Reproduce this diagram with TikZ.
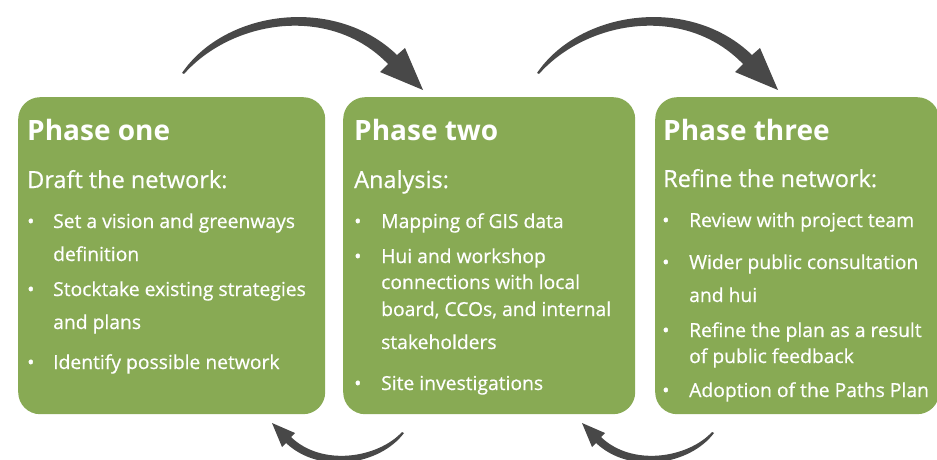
\documentclass[tikz,border=0pt]{standalone}
\usepackage{fontspec}
\setmainfont{Open Sans}[BoldFont={Open Sans Bold}]
\newfontfamily\medfont{Open Sans}[BoldFont={Open Sans}, BoldFeatures={FakeBold=0.6}]
\definecolor{boxgreen}{RGB}{136,170,84}
\definecolor{arrowgray}{RGB}{72,72,72}
\tikzset{
  phasebox/.style={fill=boxgreen, draw=none, rounded corners=22pt, anchor=north west, inner sep=0pt},
  ttl/.style={anchor=base west, inner sep=0pt, text=white, font=\fontsize{28}{28}\selectfont\bfseries},
  sub/.style={anchor=base west, inner sep=0pt, text=white, font=\medfont\bfseries\fontsize{23.5}{23.5}\selectfont},
  itm/.style={anchor=base west, inner sep=0pt, text=white, font=\medfont\bfseries\fontsize{19.3}{19.3}\selectfont},
  dot/.style={anchor=base west, inner sep=0pt, text=white, font=\medfont\bfseries\fontsize{19.3}{19.3}\selectfont},
  toparrow/.pic={
    \fill[arrowgray] (182,73) .. controls (225,10) and (335,-5) .. (397,55)
      -- (405,48) -- (423,90) -- (380,72) -- (388,64)
      .. controls (330,4) and (232,20) .. (184,74) -- cycle;
  },
  botarrow/.pic={
    \fill[arrowgray] (404,433) .. controls (380,465) and (320,475) .. (286,443)
      -- (282,447) -- (272,423) -- (295,433) -- (291,437)
      .. controls (322,467) and (378,458) .. (402,432) -- cycle;
  }
}
\begin{document}
\begin{tikzpicture}[x=1pt,y=-1pt]
\useasboundingbox (0,0) rectangle (937,460);
\begin{scope}
\clip (0,0) rectangle (937,460);
% boxes
\node[phasebox, minimum width=307pt, minimum height=317pt] (b1) at (18,97) {};
\node[phasebox, minimum width=292pt, minimum height=317pt] (b2) at (343,97) {};
\node[phasebox, minimum width=284pt, minimum height=317pt] (b3) at (655,97) {};
% arrows
\pic (a1) at (0,0) {toparrow};
\pic (a2) at (355,0) {toparrow};
\pic (a3) at (0,0) {botarrow};
\pic (a4) at (310,0) {botarrow};
\end{scope}
% phase one
\node[ttl] (t1) at (27,140) {Phase one};
\node[sub] (s1) at (27,188) {Draft the network:};
\node[dot] (d11) at (27,228) {\textbullet};
\node[itm] (i11) at (53,228) {Set a vision and greenways};
\node[itm] (i12) at (53,261) {definition};
\node[dot] (d12) at (27,296) {\textbullet};
\node[itm] (i13) at (53,296) {Stocktake existing strategies};
\node[itm] (i14) at (53,329) {and plans};
\node[dot] (d13) at (27,369) {\textbullet};
\node[itm] (i15) at (53,369) {Identify possible network};
% phase two
\node[ttl] (t2) at (354,140) {Phase two};
\node[sub] (s2) at (354,188) {Analysis:};
\node[dot] (d21) at (354,228) {\textbullet};
\node[itm] (i21) at (381,228) {Mapping of GIS data};
\node[dot] (d22) at (354,263) {\textbullet};
\node[itm] (i22) at (381,263) {Hui and workshop};
\node[itm] (i23) at (381,289) {connections with local};
\node[itm] (i24) at (381,316) {board, CCOs, and internal};
\node[itm] (i25) at (381,349) {stakeholders};
\node[dot] (d23) at (354,390) {\textbullet};
\node[itm] (i26) at (381,390) {Site investigations};
% phase three
\node[ttl] (t3) at (663,140) {Phase three};
\node[sub] (s3) at (663,187) {Refine the network:};
\node[dot] (d31) at (662,227) {\textbullet};
\node[itm] (i31) at (689,227) {Review with project team};
\node[dot] (d32) at (662,269) {\textbullet};
\node[itm] (i32) at (689,269) {Wider public consultation};
\node[itm] (i33) at (689,302) {and hui};
\node[dot] (d33) at (662,337) {\textbullet};
\node[itm] (i34) at (689,337) {Refine the plan as a result};
\node[itm] (i35) at (689,363) {of public feedback};
\node[dot] (d34) at (662,397) {\textbullet};
\node[itm] (i36) at (689,397) {Adoption of the Paths Plan};
\end{tikzpicture}
\end{document}
